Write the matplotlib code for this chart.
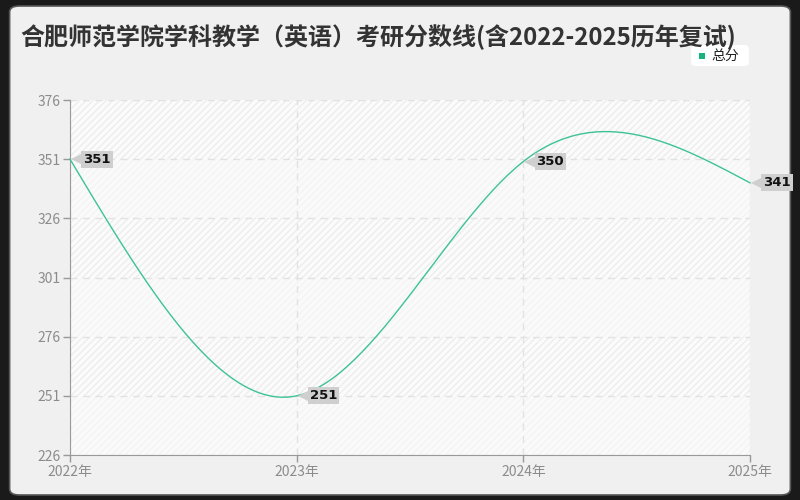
import numpy as np
import matplotlib
matplotlib.use('Agg')
import matplotlib.pyplot as plt
from matplotlib.patches import FancyBboxPatch
from matplotlib.transforms import offset_copy

plt.rcParams['font.family'] = ['Noto Sans CJK SC', 'DejaVu Sans']

title = '合肥师范学院学科教学（英语）考研分数线(含2022-2025历年复试)'
years = [2022, 2023, 2024, 2025]
year_labels = ['2022年', '2023年', '2024年', '2025年']
scores = [351, 251, 350, 341]
series_name = '总分'
y_ticks = [226, 251, 276, 301, 326, 351, 376]

line_color = '#3dc394'


def natural_spline(xp, yp, n=60):
    # natural cubic spline through the points (second derivative 0 at ends)
    xp = np.asarray(xp, float)
    yp = np.asarray(yp, float)
    k = len(xp)
    h = np.diff(xp)
    A = np.zeros((k, k))
    b = np.zeros(k)
    A[0, 0] = 1
    A[-1, -1] = 1
    for i in range(1, k - 1):
        A[i, i - 1] = h[i - 1]
        A[i, i] = 2 * (h[i - 1] + h[i])
        A[i, i + 1] = h[i]
        b[i] = 6 * ((yp[i + 1] - yp[i]) / h[i] - (yp[i] - yp[i - 1]) / h[i - 1])
    M = np.linalg.solve(A, b)
    xs, ys = [], []
    for i in range(k - 1):
        t = np.linspace(xp[i], xp[i + 1], n)
        a = xp[i + 1] - t
        c = t - xp[i]
        s = (M[i] * a ** 3 + M[i + 1] * c ** 3) / (6 * h[i]) \
            + (yp[i] / h[i] - M[i] * h[i] / 6) * a \
            + (yp[i + 1] / h[i] - M[i + 1] * h[i] / 6) * c
        xs.extend(t)
        ys.extend(s)
    return np.array(xs), np.array(ys)


fig = plt.figure(figsize=(8, 5), dpi=100, facecolor='#1a1a1a')
bg = FancyBboxPatch((0.012, 0.01), 0.976, 0.978, boxstyle='round,pad=0,rounding_size=0.012',
                    transform=fig.transFigure, facecolor='#f0f0f0', edgecolor='#555555',
                    linewidth=1.2, zorder=-10)
fig.patches.append(bg)

ax = fig.add_axes([0.0875, 0.09, 0.85, 0.71])
ax.set_facecolor('#fafafa')
ax.set_xlim(years[0], years[-1])
ax.set_ylim(y_ticks[0], y_ticks[-1])

# alternating striped bands
for k in range(len(y_ticks) - 1):
    lo, hi = y_ticks[k], y_ticks[k + 1]
    if k % 2 == 1:
        ax.axhspan(lo, hi, facecolor='#fbfbfb', edgecolor='#ededed', hatch='/////',
                   linewidth=0, zorder=0)
    else:
        ax.axhspan(lo, hi, facecolor='#fafafa', edgecolor='#f4f4f4', hatch='/////',
                   linewidth=0, zorder=0)

ax.grid(True, linestyle=(0, (5, 4)), color='#e2e2e2', linewidth=1, zorder=1)
ax.set_axisbelow(True)

ax.set_xticks(years)
ax.set_xticklabels(year_labels)
ax.set_yticks(y_ticks)
ax.tick_params(axis='both', colors='#999999', labelsize=10, length=5, width=1)
ax.tick_params(axis='x', pad=2)
ax.tick_params(axis='y', pad=2)
for lbl in ax.get_xticklabels() + ax.get_yticklabels():
    lbl.set_color('#8c8c8c')
for side in ['top', 'right']:
    ax.spines[side].set_visible(False)
for side in ['left', 'bottom']:
    ax.spines[side].set_color('#999999')

cx, cy = natural_spline(years, scores)
ax.plot(cx, cy, color=line_color, linewidth=1.0, zorder=3, clip_on=False)

for x, y in zip(years, scores):
    tr_m = offset_copy(ax.transData, fig=fig, x=5, y=0, units='points')
    ax.plot([x], [y], marker='<', markersize=9, color='#cfcfcf', transform=tr_m,
            clip_on=False, zorder=4, markeredgewidth=0)
    tr_t = offset_copy(ax.transData, fig=fig, x=9.5, y=0, units='points')
    ax.text(x, y, str(y), transform=tr_t, fontsize=9.5, fontweight='bold', color='#111111',
            va='center', ha='left', zorder=5, family=['DejaVu Sans'],
            bbox=dict(boxstyle='square,pad=0.14', facecolor='#cfcfcf', edgecolor='none'))

fig.text(0.025, 0.926, title, fontsize=17.3, fontweight='bold', color='#333333', va='center')

# legend box
leg = FancyBboxPatch((0.864, 0.868), 0.072, 0.042, boxstyle='round,pad=0,rounding_size=0.006',
                     transform=fig.transFigure, facecolor='white', edgecolor='none')
fig.patches.append(leg)
fig.patches.append(plt.Rectangle((0.874, 0.883), 0.007, 0.011, transform=fig.transFigure,
                                 facecolor='#19b37f', edgecolor='none'))
fig.text(0.889, 0.889, series_name, fontsize=10, color='#222222', va='center')

fig.savefig('out.png', dpi=100, facecolor=fig.get_facecolor())
